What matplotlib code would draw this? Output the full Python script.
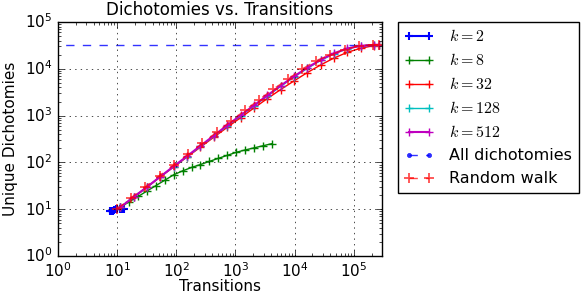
import numpy as np
import matplotlib
matplotlib.use('Agg')
import matplotlib.pyplot as plt

plt.style.use('classic')

# k=2 (only a handful of short runs near 10 transitions)
x_k2 = [7.5, 8.0, 8.5, 9.0, 9.5, 10.0, 11.0, 12.0, 13.0]
y_k2 = [9.0, 9.0, 9.2, 9.5, 10.0, 10.0, 10.0, 10.0, 10.0]

# k=8
x_k8 = [11.3, 16, 22.6, 32, 45.3, 64, 90.5, 128, 181, 256, 362, 512,
        724, 1024, 1448, 2048, 2896, 4096]
y_k8 = [11, 14.4, 18.7, 24.5, 32, 41.7, 54.5, 66, 78, 90, 105, 122,
        141, 164, 184, 204, 226, 251]

# k=32 / 128 / 512 share the same transition counts
x_big = [11.3, 19, 32, 53.8, 90.5, 152, 256, 431, 724, 1218, 2048, 3444,
         5793, 9742, 16384, 27554, 46341, 77936, 131072, 220435, 262144]
y_k32 = [11, 18, 29.5, 49, 80, 130, 212, 345, 560, 900, 1450, 2300,
         3600, 5500, 8300, 12100, 17000, 22500, 27500, 31300, 32768]
y_k128 = [11, 18.1, 29.8, 49.5, 81.5, 133, 220, 362, 600, 975, 1600, 2600,
          4200, 6650, 10200, 15100, 21000, 26800, 30800, 32450, 32768]
y_k512 = [11, 18.2, 30, 49.9, 82.6, 136, 226, 374, 621, 1012, 1654, 2693,
          4349, 6886, 10571, 15575, 21505, 27178, 31029, 32513, 32768]

# random walk
x_rw = [10, 17.1, 29.9, 52, 90.5, 158, 274, 478, 832, 1448, 2521, 4390,
        7643, 13308, 23170, 40342, 70240, 122295, 212927, 262144]
y_rw = [10, 17.5, 30, 52, 88, 150, 255, 440, 760, 1300, 2200, 3700,
        6000, 9800, 15000, 20000, 25500, 31000, 32600, 32768]

# all dichotomies for 15 points
n_all = 2 ** 15
x_all = [0.1, 1e7]
y_all = [n_all, n_all]

fig = plt.figure(figsize=(5.82, 2.94), dpi=100, facecolor='white')
ax = fig.add_axes([58 / 582, 38 / 294, 324 / 582, 234 / 294])

ax.plot(x_k2, y_k2, 'b+-', lw=1.5, mew=1.5, label='$k=2$')
ax.plot(x_k8, y_k8, 'g+-', lw=1, mew=1, label='$k=8$')
ax.plot(x_big, y_k32, 'r+-', lw=1, mew=1, label='$k=32$')
ax.plot(x_big, y_k128, 'c+-', lw=1, mew=1, label='$k=128$')
ax.plot(x_big, y_k512, 'm+-', lw=1.5, mew=1, label='$k=512$')
ax.plot(x_all, y_all, 'b.--', lw=1, alpha=0.8, label='All dichotomies')
ax.plot(x_rw, y_rw, 'r+--', lw=1, mew=1.3, ms=7, alpha=0.7, label='Random walk')

ax.set_xscale('log')
ax.set_yscale('log')
ax.set_xlim(1, 3e5)
ax.set_ylim(1, 1e5)
ax.grid(True)
ax.set_title('Dichotomies vs. Transitions', fontsize=12)
ax.set_xlabel('Transitions', fontsize=11)
ax.set_ylabel('Unique Dichotomies', fontsize=11)
ax.xaxis.set_label_coords(0.5, -0.098)
ax.yaxis.set_label_coords(-0.125, 0.5)
ax.tick_params(labelsize=11)

ax.legend(loc='upper left', bbox_to_anchor=(1.05, 1.0), fontsize=11.5,
          numpoints=2, borderaxespad=0., handlelength=1.8, handletextpad=1.0)

fig.savefig('out.png', dpi=100, facecolor='white')
